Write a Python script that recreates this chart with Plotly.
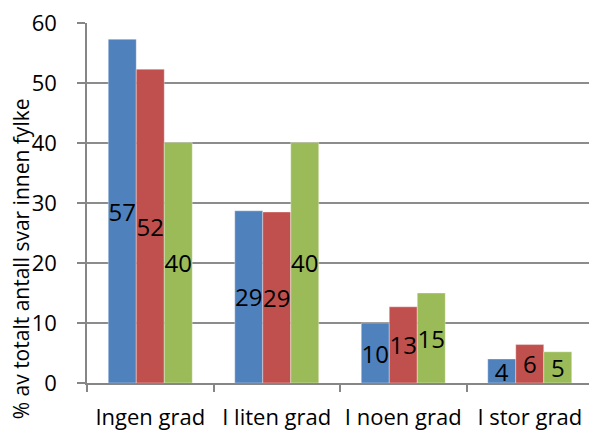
import plotly.graph_objects as go

categories = ["Ingen grad", "I liten grad", "I noen grad", "I stor grad"]
series_names = ["Serie 1", "Serie 2", "Serie 3"]
series_blue = [57.3, 28.7, 10.0, 4.0]
series_red = [52.3, 28.5, 12.7, 6.4]
series_green = [40.1, 40.1, 15.0, 5.2]
colors = ["#4F81BD", "#C0504D", "#9BBB59"]
y_ticks = [0, 10, 20, 30, 40, 50, 60]
y_title = "% av totalt antall svar innen fylke"

FONT = "Open Sans"

fig = go.Figure()
for name, vals, col in zip(series_names, [series_blue, series_red, series_green], colors):
    fig.add_trace(go.Bar(
        name=name, x=categories, y=vals,
        marker=dict(color=col, line=dict(color="rgba(255,255,255,0.6)", width=0.6)),
        texttemplate="%{y:.0f}", textposition="inside", insidetextanchor="middle",
        constraintext="none", textangle=0,
        textfont=dict(family=FONT, size=24, color="black"),
    ))

# page body has an 8px margin, so the figure is sized to fill the rest of the window
fig.update_layout(
    barmode="group", bargap=0.336, bargroupgap=0,
    width=589, height=422, showlegend=False,
    paper_bgcolor="white", plot_bgcolor="white",
    margin=dict(l=79, r=4, t=15, b=47, autoexpand=False),
    font=dict(family=FONT, color="black"),
)
fig.add_annotation(
    text=y_title, textangle=-90, showarrow=False,
    xref="paper", yref="paper", x=0, y=0.345, xshift=-66.5,
    xanchor="center", yanchor="middle",
    font=dict(family=FONT, size=21, color="black"),
)
fig.update_xaxes(
    automargin=False,
    showline=True, linecolor="#868686", linewidth=1.5,
    ticks="outside", tickson="boundaries", ticklen=7, tickcolor="#868686", tickwidth=1.5,
    ticklabelstandoff=14,
    tickfont=dict(family=FONT, size=22, color="black"),
    showgrid=False,
)
fig.update_yaxes(
    automargin=False,
    range=[0, 60], tickvals=y_ticks,
    showline=True, linecolor="#868686", linewidth=1.5,
    ticks="outside", ticklen=8, tickcolor="#868686", tickwidth=1.5,
    ticklabelstandoff=16, ticklabeloverflow="allow",
    showgrid=True, gridcolor="#8C8C8C", gridwidth=1.5,
    tickfont=dict(family=FONT, size=22, color="black"),
    zeroline=False,
)

fig.write_html("out.html")
